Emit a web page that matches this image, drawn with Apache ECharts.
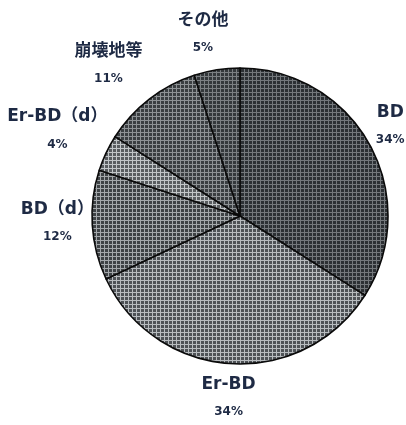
<!DOCTYPE html>
<html>
<head>
<meta charset="utf-8">
<script src="https://cdn.jsdelivr.net/npm/echarts@6/dist/echarts.min.js"></script>
<style>
  html, body { margin: 0; padding: 0; background: #fff; }
  #chart { width: 406px; height: 425px; }
</style>
</head>
<body>
<div id="chart"></div>
<script>
// Share of each category (percent), clockwise from 12 o'clock
const categories = ['BD', 'Er-BD', 'BD（d）', 'Er-BD（d）', '崩壊地等', 'その他'];
const shares = [34, 34, 12, 4, 11, 5];

// Fill: base tone plus lighter grid lines for the checkered hatch
const baseTones = ['#2c3034', '#4e5256', '#3e4245', '#595d60', '#3a3e41', '#34383b'];
const gridTones = ['#74787c', '#b8bcbf', '#a4a8ab', '#c2c6c8', '#8e9295', '#7c8083'];
// Label placement: radial distance from the pie centre, plus a small nudge (px)
const labelRadius = [176, 182, 186, 203, 200, 186];
const labelNudge = [[-4, -5], [0, 0], [3, -5], [1, 1], [-9, 7], [-8, 2]];

function hatch(base, line) {
  const c = document.createElement('canvas');
  c.width = 4; c.height = 4;
  const g = c.getContext('2d');
  g.fillStyle = base;
  g.fillRect(0, 0, 4, 4);
  g.fillStyle = line;
  g.fillRect(0, 0, 4, 1);
  g.fillRect(0, 0, 1, 4);
  return c;
}

const cx = 240, cy = 216, R = 148;
const total = shares.reduce((a, b) => a + b, 0);
const midAngles = [];
let acc = 0;
shares.forEach(v => {
  midAngles.push((acc + v / 2) / total * 2 * Math.PI);
  acc += v;
});

const font = '"DejaVu Sans", "Noto Sans CJK JP", sans-serif';
const chart = echarts.init(document.getElementById('chart'), null, { renderer: 'canvas' });
chart.setOption({
  backgroundColor: '#ffffff',
  animation: false,
  series: [{
    type: 'pie',
    center: [cx, cy],
    radius: R,
    startAngle: 90,
    clockwise: true,
    avoidLabelOverlap: false,
    data: categories.map((name, i) => ({
      name,
      value: shares[i],
      itemStyle: {
        color: { image: hatch(baseTones[i], gridTones[i]), repeat: 'repeat' }
      }
    })),
    itemStyle: { borderColor: '#0a0a0a', borderWidth: 1.6 },
    label: {
      show: true,
      position: 'outside',
      alignTo: 'none',
      overflow: 'none',
      width: 200,
      formatter: p => '{n|' + p.name + '}\n{p|' + p.value + '%}',
      rich: {
        n: { fontFamily: font, fontSize: 17, fontWeight: 'bold', color: '#1e2a44', lineHeight: 28, align: 'center' },
        p: { fontFamily: font, fontSize: 12, fontWeight: 'bold', color: '#1e2a44', lineHeight: 27, align: 'center' }
      }
    },
    labelLine: { show: false },
    labelLayout: params => {
      const i = params.dataIndex;
      const a = midAngles[i];
      return {
        x: cx + labelRadius[i] * Math.sin(a) + labelNudge[i][0],
        y: cy - labelRadius[i] * Math.cos(a) + labelNudge[i][1],
        align: 'center',
        verticalAlign: 'middle',
        hideOverlap: false,
        moveOverlap: null
      };
    }
  }]
});
</script>
</body>
</html>
